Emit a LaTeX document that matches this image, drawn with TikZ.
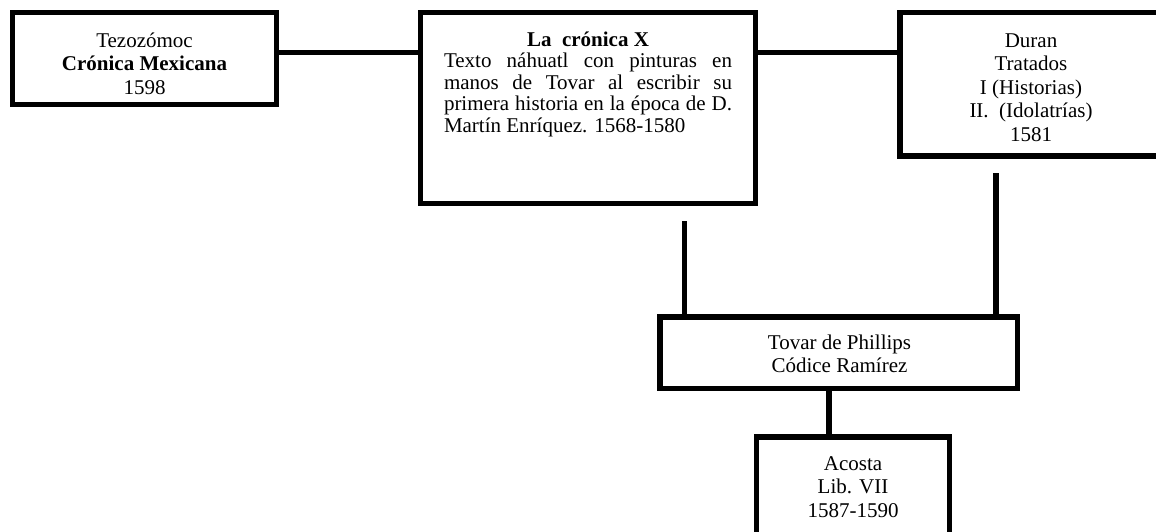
\documentclass[tikz,border=0pt]{standalone}
\usepackage{fontspec}
\setmainfont{Liberation Serif}
\begin{document}
\begin{tikzpicture}[x=1pt,y=-1pt,
  frame/.style={draw=black, line width=5.5pt, inner sep=0pt, outer sep=0pt, anchor=north west},
  link/.style={draw=black, line width=5.5pt},
  txt/.style={anchor=north, inner sep=0pt, align=center, font=\fontsize{21}{23.5}\selectfont}]
  % page
  \useasboundingbox (0,0) rectangle (1156,531);
  \clip (0,0) rectangle (1156,531);
  \fill[white] (0,0) rectangle (1156,531);

  % boxes
  \node[frame, minimum width=264pt,   minimum height=92pt]    (b1) at (12.5,12.5) {};
  \node[frame, minimum width=335pt,   minimum height=191pt]   (b2) at (420.5,12.5) {};
  \node[frame, minimum width=265pt,   minimum height=143.5pt] (b3) at (900,12.5) {};
  \node[frame, minimum width=357.5pt, minimum height=71.5pt]  (tv) at (660,317) {};
  \node[frame, minimum width=193pt,   minimum height=110pt]   (ac) at (756.5,437) {};

  % texts
  \node[txt] (t1) at (144.5,30.5) {\strut Tezozómoc\\\textbf{Crónica Mexicana}\\1598};
  \node[anchor=north, inner sep=0pt, text width=288pt, align=justify,
        font=\fontsize{21}{21.5}\selectfont]
        (t2) at (588,31)
        {\parindent=0pt\tolerance=10000\hbadness=10000
         {\centering\strut\textbf{La\ \ crónica X}\par}%
         Texto náhuatl con pinturas en\linebreak
         manos de Tovar al escribir su\linebreak
         primera historia en la época de D.\linebreak
         Martín Enríquez. 1568-1580};
  \node[txt] (t3) at (1031,30.5) {\strut Duran\\Tratados\\I (Historias)\\II.\ \ (Idolatrías)\\1581};
  \node[txt] (t4) at (839.5,332.5) {\strut Tovar de Phillips\\Códice Ramírez};
  \node[txt] (t5) at (853,453.5) {\strut Acosta\\Lib. VII\\1587-1590};

  % connectors
  \coordinate (h)  at (0,52.5);
  \coordinate (v2) at (684.5,221);
  \coordinate (v3) at (996,173);
  \coordinate (v4) at (829,0);
  \draw[link] (b1.east |- h) -- (b2.west |- h);
  \draw[link] (b2.east |- h) -- (b3.west |- h);
  \draw[link] (v2) -- (v2 |- tv.north);
  \draw[link] (v3) -- (v3 |- tv.north);
  \draw[link] (v4 |- tv.south) -- (v4 |- ac.north);
\end{tikzpicture}
\end{document}
